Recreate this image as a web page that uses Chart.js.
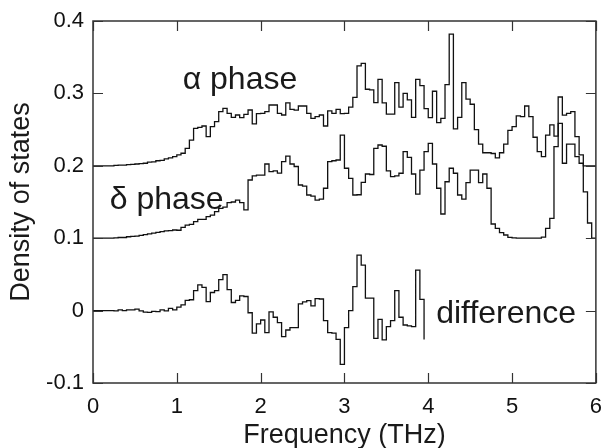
<!DOCTYPE html>
<html>
<head>
<meta charset="utf-8">
<script src="https://cdn.jsdelivr.net/npm/chart.js@4/dist/chart.umd.min.js"></script>
<style>
  html, body { margin: 0; padding: 0; background: #fff; }
  #wrap { width: 605px; height: 448px; position: relative; }
</style>
</head>
<body>
<div id="wrap"><canvas id="c" width="605" height="448"></canvas></div>
<script>
// Bin width of the histograms (THz)
const binWidth = 0.05;

// axis ticks
const xTicks = [0, 1, 2, 3, 4, 5, 6];
const yTickLabels = ["0.4", "0.3", "0.2", "0.1", "0", "-0.1"];

// α phase density of states (offset +0.2), one value per 0.05 THz bin
const alphaPhase = [
  0.200,0.200,0.200,0.200,0.200,0.2005,0.201,0.201,0.2015,0.202,
  0.2025,0.203,0.2035,0.205,0.2055,0.207,0.2075,0.2095,0.211,0.2126,
  0.215,0.2173,0.224,0.2356,0.2518,0.2532,0.255,0.2402,0.254,0.2609,
  0.2747,0.2794,0.2725,0.267,0.2702,0.2665,0.2711,0.2771,0.258,0.272,
  0.2725,0.2747,0.284,0.284,0.2725,0.2702,0.287,0.278,0.277,0.2826,
  0.2826,0.2725,0.2656,0.268,0.2702,0.255,0.276,0.2725,0.278,0.272,
  0.2725,0.281,0.2946,0.338,0.3416,0.3057,0.305,0.2872,0.3195,0.287,
  0.2715,0.2715,0.315,0.281,0.300,0.291,0.267,0.3195,0.3107,0.279,
  0.2665,0.303,0.2595,0.2656,0.312,0.382,0.251,0.267,0.315,0.292,
  0.285,0.250,0.230,0.218,0.218,0.217,0.211,0.218,0.230,0.249,
  0.254,0.269,0.268,0.2826,0.268,0.2394,0.2195,0.2126,0.2425,0.2564,
  0.241,0.295,0.270,0.2725,0.2747,0.2403,0.215,0.200,0.200,0.200
];

// δ phase density of states (offset +0.1)
const deltaPhase = [
  0.100,0.100,0.100,0.100,0.100,0.1005,0.101,0.101,0.102,0.1025,
  0.103,0.104,0.105,0.106,0.107,0.108,0.109,0.110,0.1105,0.1113,
  0.111,0.115,0.118,0.119,0.1228,0.126,0.126,0.1297,0.132,0.1366,
  0.1413,0.143,0.149,0.150,0.1527,0.149,0.139,0.1804,0.186,0.187,
  0.187,0.2025,0.192,0.193,0.190,0.2057,0.2135,0.2025,0.199,0.1735,
  0.172,0.1597,0.158,0.1527,0.154,0.169,0.2057,0.207,0.208,0.2425,
  0.1966,0.1827,0.1597,0.160,0.1772,0.1887,0.188,0.2241,0.2287,0.227,
  0.193,0.185,0.186,0.1897,0.2195,0.2117,0.1887,0.161,0.194,0.2195,
  0.231,0.2025,0.169,0.1334,0.178,0.1966,0.1897,0.1597,0.1541,0.1767,
  0.194,0.194,0.1767,0.1887,0.169,0.1196,0.1137,0.1077,0.1044,0.1012,
  0.1005,0.100,0.100,0.100,0.100,0.100,0.100,0.1015,0.1137,0.1275,
  0.2264,0.2587,0.2035,0.230,0.230,0.2127,0.2035,0.164,0.121,0.100
];

// difference (ends at 3.95 THz)
const difference = [
  0,0,0,0,0,-0.0005,0.001,0,0.001,0.001,
  0.002,-0.0005,-0.002,-0.0025,-0.001,-0.0015,0.001,-0.0005,0.003,0.001,
  0.0047,0.008,0.0142,0.015,0.0276,0.0354,0.032,0.0124,0.025,0.0276,
  0.0428,0.0497,0.029,0.0112,0.014,0.0204,0.0195,-0.003,-0.0312,-0.0182,
  -0.013,-0.0304,-0.0018,-0.0092,-0.0166,-0.036,-0.0268,-0.0235,-0.0235,0.0092,
  0.012,0.0138,0.0065,0.0166,0.016,-0.0139,-0.0304,-0.031,-0.0397,-0.0743,
  -0.0235,0,0.033,0.0765,0.0627,0.0171,0.0171,-0.0383,-0.012,-0.0405,
  -0.0221,-0.0139,0.0276,-0.0092,-0.0199,-0.021,-0.022,0.056,0.0155
];
const differenceEndValue = -0.04;

const labels = [
  { text: "\u03b1 phase", x: 1.07, y: 0.3065 },
  { text: "\u03b4 phase", x: 0.2, y: 0.1405 },
  { text: "difference", x: 4.095, y: -0.0165 }
];

function histPoints(vals, endValue) {
  const pts = vals.map((v, i) => ({ x: +(i * binWidth).toFixed(4), y: v }));
  pts.push({ x: +(vals.length * binWidth).toFixed(4), y: endValue === undefined ? vals[vals.length - 1] : endValue });
  return pts;
}

const FONT = "'Liberation Sans', Arial, Helvetica, sans-serif";

const framePlugin = {
  id: 'frame',
  afterDraw(chart) {
    const { ctx, chartArea: a, scales } = chart;
    const xs = scales.x, ys = scales.y;
    ctx.save();
    ctx.strokeStyle = '#333';
    ctx.lineWidth = 1.5;
    ctx.strokeRect(a.left, a.top, a.right - a.left, a.bottom - a.top);
    ctx.lineWidth = 1.2;
    const tl = 10;
    ctx.beginPath();
    xTicks.forEach(v => {
      const px = Math.round(xs.getPixelForValue(v)) + 0.5;
      ctx.moveTo(px, a.bottom); ctx.lineTo(px, a.bottom - tl);
      ctx.moveTo(px, a.top); ctx.lineTo(px, a.top + tl);
    });
    ys.ticks.forEach(t => {
      const py = Math.round(ys.getPixelForValue(t.value)) + 0.5;
      ctx.moveTo(a.left, py); ctx.lineTo(a.left + tl, py);
      ctx.moveTo(a.right, py); ctx.lineTo(a.right - tl, py);
    });
    ctx.stroke();

    // annotations
    ctx.fillStyle = '#1a1a1a';
    ctx.font = '32px ' + FONT;
    ctx.textBaseline = 'alphabetic';
    ctx.textAlign = 'left';
    labels.forEach(l => {
      ctx.fillText(l.text, xs.getPixelForValue(l.x), ys.getPixelForValue(l.y));
    });

    // axis titles
    ctx.font = '27px ' + FONT;
    ctx.textAlign = 'center';
    ctx.textBaseline = 'middle';
    ctx.fillText('Frequency (THz)', (a.left + a.right) / 2, 436);
    ctx.save();
    ctx.translate(22, (a.top + a.bottom) / 2);
    ctx.rotate(-Math.PI / 2);
    ctx.fillText('Density of states', 0, 0);
    ctx.restore();
    ctx.restore();
  }
};

const lineStyle = { borderColor: '#111', borderWidth: 1.3, pointRadius: 0, stepped: 'before', fill: false, tension: 0 };

new Chart(document.getElementById('c'), {
  type: 'line',
  data: {
    datasets: [
      Object.assign({ label: 'alpha', data: histPoints(alphaPhase) }, lineStyle),
      Object.assign({ label: 'delta', data: histPoints(deltaPhase) }, lineStyle),
      Object.assign({ label: 'difference', data: histPoints(difference, differenceEndValue) }, lineStyle)
    ]
  },
  options: {
    responsive: false,
    animation: false,
    devicePixelRatio: 1,
    layout: { padding: { top: 21, right: 8, left: 0, bottom: 0 } },
    plugins: { legend: { display: false }, tooltip: { enabled: false } },
    scales: {
      x: {
        type: 'linear', min: 0, max: 6,
        grid: { display: false }, border: { display: false },
        afterFit(s) { s.height = 65; },
        afterBuildTicks(s) { s.ticks = xTicks.map(v => ({ value: v })); },
        ticks: { font: { size: 22, family: FONT }, color: '#111', padding: 3, maxRotation: 0, autoSkip: false,
                 callback: v => String(v) }
      },
      y: {
        type: 'linear', min: -0.1, max: 0.4,
        grid: { display: false }, border: { display: false },
        afterFit(s) { s.width = 93; },
        afterBuildTicks(s) { s.ticks = yTickLabels.map(t => ({ value: parseFloat(t) })); },
        ticks: { font: { size: 22, family: FONT }, color: '#111', padding: 1, autoSkip: false,
                 callback: (v) => { const m = yTickLabels.find(t => Math.abs(parseFloat(t) - v) < 1e-9); return m !== undefined ? m : ''; } }
      }
    }
  },
  plugins: [framePlugin]
});
</script>
</body>
</html>
